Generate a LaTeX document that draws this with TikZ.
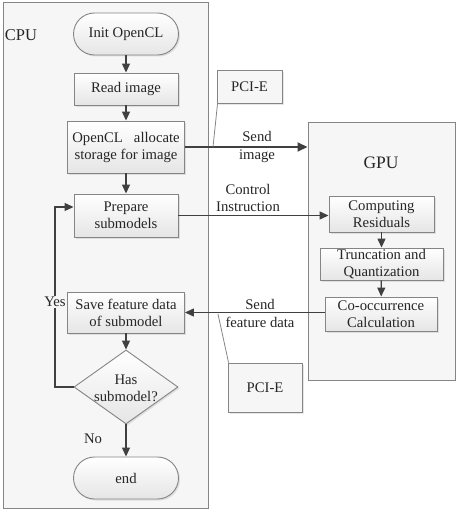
\documentclass[tikz,border=0pt]{standalone}
\usepackage{fontspec}
\setmainfont{Liberation Serif}
\usetikzlibrary{arrows.meta,shapes.geometric,shadows}
\definecolor{framefill}{HTML}{F6F6F6}
\definecolor{lineclr}{HTML}{404040}
\definecolor{bordclr}{HTML}{858585}
\begin{document}
\begin{tikzpicture}[x=1pt,y=-1pt,
  every node/.style={font=\fontsize{14.7}{17}\selectfont, text=black!85},
  frame/.style={draw=bordclr, fill=framefill, line width=1pt, inner sep=0},
  boxbase/.style={draw=bordclr, line width=0.9pt, top color=white, bottom color=black!10, inner sep=0, align=center,
     drop shadow={opacity=0.2, shadow xshift=1.5pt, shadow yshift=-1.5pt}},
  cpubox/.style={boxbase, rectangle},
  term/.style={boxbase, rectangle, rounded corners=21pt},
  dec/.style={boxbase, diamond},
  pci/.style={draw=bordclr, fill=framefill, line width=0.9pt, inner sep=0, drop shadow={opacity=0.2, shadow xshift=1.5pt, shadow yshift=-1.5pt}},
  arr/.style={draw=lineclr, line width=1.2pt, -{Triangle[length=9pt,width=8pt]}},
  thickarr/.style={draw=lineclr, line width=2pt, -{Triangle[length=10pt,width=9pt]}},
  pointer/.style={draw=bordclr, line width=0.8pt},
  lbl/.style={align=center, inner sep=0}
]
\useasboundingbox (0,0) rectangle (461,511);
% frames
\node[frame, minimum width=205pt, minimum height=505pt] (cpu) at (105.5,255.5) {};
\node[frame, minimum width=147pt, minimum height=258pt] (gpu) at (381.5,251) {};
\node[font=\fontsize{16.5}{18}\selectfont] (cpulbl) at (21,35) {CPU};
\node[font=\fontsize{17.5}{19}\selectfont] (gpulbl) at (381,163) {GPU};
% CPU flow
\node[term, minimum width=105pt, minimum height=42pt] (init) at (126,34) {Init OpenCL};
\node[cpubox, minimum width=104pt, minimum height=32pt] (read) at (126,89) {Read image};
\node[cpubox, minimum width=117pt, minimum height=52pt] (alloc) at (126,147) {OpenCL\ \ \ allocate\\storage for image};
\node[cpubox, minimum width=104pt, minimum height=43pt] (prep) at (126,215.5) {Prepare\\submodels};
\node[cpubox, minimum width=117pt, minimum height=41pt] (save) at (126,312.5) {Save feature data\\of submodel};
\node[dec, minimum width=104pt, minimum height=74pt] (has) at (126,387) {};
\node[lbl] (hastxt) at (126,388) {Has\\submodel?};
\node[term, minimum width=105pt, minimum height=42pt] (end) at (126,478) {end};
% GPU flow
\node[cpubox, minimum width=105pt, minimum height=36pt] (comp) at (381.5,214) {Computing\\Residuals};
\node[cpubox, minimum width=123pt, minimum height=32pt] (trunc) at (381.5,264) {Truncation and\\Quantization};
\node[cpubox, minimum width=112pt, minimum height=34pt] (cooc) at (381,314) {Co-occurrence\\Calculation};
% PCI-E boxes
\node[pci, minimum width=65pt, minimum height=33pt] (pci1) at (249.5,86.5) {PCI-E};
\node[pci, minimum width=74pt, minimum height=49pt] (pci2) at (265,387.5) {PCI-E};
% arrows
\draw[arr] (init) -- (read);
\draw[arr] (read) -- (alloc);
\draw[arr] (alloc) -- (prep);
\draw[arr] (save) -- (has);
\draw[arr] (has) -- node[lbl, pos=0.45, xshift=-33pt] (nolbl) {No} (end);
\coordinate (loopc) at (55,387);
\draw[arr] (has.west) -- (loopc) |- ([yshift=8.5pt]prep.west);
\node[fill=framefill, inner sep=1pt] (yeslbl) at (55,302) {Yes};
\draw[thickarr] (alloc.east) -- (gpu.west |- alloc.east);
\node[lbl] (sendimg) at (257,147) {Send\\[1pt]image};
\draw[arr] (prep.east) -- (comp.west |- prep.east);
\node[lbl] (ctrl) at (248,198) {Control\\Instruction};
\draw[arr] (comp) -- (trunc);
\draw[arr] (trunc) -- (cooc);
\draw[arr] (cooc.west |- save.east) -- (save.east);
\node[lbl] (sendfeat) at (260,313) {Send\\[1pt]feature data};
% pointers
\coordinate (p1) at (213,147);
\draw[pointer] ([xshift=1pt]pci1.south west) -- (p1);
\coordinate (p2) at (218,314);
\draw[pointer] ([xshift=1pt]pci2.north west) -- (p2);
\end{tikzpicture}
\end{document}
